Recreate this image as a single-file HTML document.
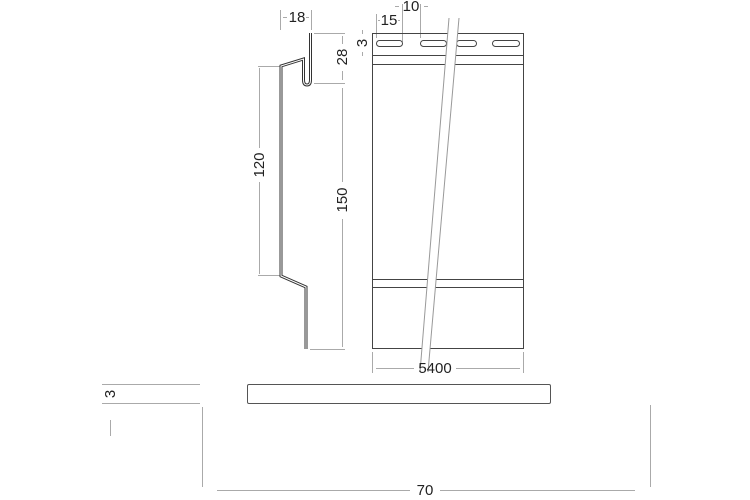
<!DOCTYPE html>
<html><head><meta charset="utf-8"><style>
html,body{margin:0;padding:0;background:#fff;}
svg{display:block;}
text{font-family:"Liberation Sans",sans-serif;font-size:15px;fill:#222;}
</style></head><body>
<svg width="750" height="500" viewBox="0 0 750 500" xmlns="http://www.w3.org/2000/svg">
<g stroke="#aaa" stroke-width="1" fill="none">
<line x1="280.5" y1="10" x2="280.5" y2="30"/>
<line x1="311.5" y1="10" x2="311.5" y2="30"/>
<line x1="283" y1="17.5" x2="287" y2="17.5"/><line x1="306" y1="17.5" x2="309" y2="17.5"/>
<line x1="314" y1="33.5" x2="345" y2="33.5"/>
<line x1="314" y1="83.5" x2="345" y2="83.5"/>
<line x1="342.5" y1="36" x2="342.5" y2="44"/>
<line x1="342.5" y1="71" x2="342.5" y2="80"/>
<line x1="342.5" y1="88" x2="342.5" y2="182"/>
<line x1="342.5" y1="219" x2="342.5" y2="347"/>
<line x1="310" y1="349.5" x2="345" y2="349.5"/>
<line x1="258" y1="66.5" x2="280" y2="66.5"/>
<line x1="258" y1="275.5" x2="280" y2="275.5"/>
<line x1="259.5" y1="68" x2="259.5" y2="148"/>
<line x1="259.5" y1="182" x2="259.5" y2="274"/>
<line x1="376.5" y1="14" x2="376.5" y2="38"/>
<line x1="402.5" y1="4" x2="402.5" y2="42"/>
<line x1="420.5" y1="4" x2="420.5" y2="38"/>
<line x1="378" y1="20.5" x2="380" y2="20.5"/><line x1="398" y1="20.5" x2="400" y2="20.5"/>
<line x1="395" y1="6.5" x2="399" y2="6.5"/><line x1="424" y1="6.5" x2="428" y2="6.5"/>
<line x1="362.5" y1="30" x2="362.5" y2="34"/><line x1="362.5" y1="52" x2="362.5" y2="56"/>
<line x1="372.5" y1="352" x2="372.5" y2="373"/>
<line x1="523.5" y1="352" x2="523.5" y2="373"/>
<line x1="376" y1="368.5" x2="414" y2="368.5"/>
<line x1="456" y1="368.5" x2="520" y2="368.5"/>
<line x1="102" y1="384.5" x2="200" y2="384.5"/>
<line x1="102" y1="403.5" x2="200" y2="403.5"/>
<line x1="110.5" y1="420" x2="110.5" y2="436"/>
<line x1="202.5" y1="407" x2="202.5" y2="487"/>
<line x1="650.5" y1="405" x2="650.5" y2="487"/>
<line x1="217" y1="490.5" x2="410" y2="490.5"/>
<line x1="440" y1="490.5" x2="635" y2="490.5"/>
</g>
<path d="M310.5,33 L310.5,80 Q310.5,85 307,85 Q303.5,85 303.5,80 L303.5,59 L281,66 L281,276 L306,287 L306,349" fill="none" stroke="#333" stroke-width="3"/>
<path d="M310.5,33 L310.5,80 Q310.5,85 307,85 Q303.5,85 303.5,80 L303.5,59 L281,66 L281,276 L306,287 L306,349" fill="none" stroke="#fff" stroke-width="1"/>
<g stroke="#444" stroke-width="1" fill="none">
<rect x="372.5" y="33.5" width="151" height="315"/>
<line x1="372" y1="55.5" x2="524" y2="55.5"/>
<line x1="372" y1="64.5" x2="524" y2="64.5"/>
<line x1="372" y1="279.5" x2="524" y2="279.5"/>
<line x1="372" y1="287.5" x2="524" y2="287.5"/>
<rect x="376.5" y="40.5" width="26" height="6" rx="3"/>
<rect x="420.5" y="40.5" width="26" height="6" rx="3"/>
<rect x="456.5" y="40.5" width="20" height="6" rx="3"/>
<rect x="492.5" y="40.5" width="27" height="6" rx="3"/>
</g>
<polygon points="449,18 459,18 428,372 420,372" fill="#fff"/>
<g stroke="#999" stroke-width="1">
<line x1="449" y1="18" x2="420" y2="372"/>
<line x1="459" y1="18" x2="428" y2="372"/>
</g>
<rect x="247.5" y="384.5" width="303" height="19" rx="1.5" fill="none" stroke="#555" stroke-width="1"/>
<text x="297" y="22" text-anchor="middle">18</text>
<text x="389" y="25" text-anchor="middle">15</text>
<text x="411" y="11" text-anchor="middle">10</text>
<text transform="translate(367,43) rotate(-90)" text-anchor="middle">3</text>
<text transform="translate(347,57) rotate(-90)" text-anchor="middle">28</text>
<text transform="translate(347,200) rotate(-90)" text-anchor="middle">150</text>
<text transform="translate(264,165) rotate(-90)" text-anchor="middle">120</text>
<text x="435" y="373" text-anchor="middle">5400</text>
<text transform="translate(115,394) rotate(-90)" text-anchor="middle">3</text>
<text x="425" y="495" text-anchor="middle">70</text>
</svg>
</body></html>
